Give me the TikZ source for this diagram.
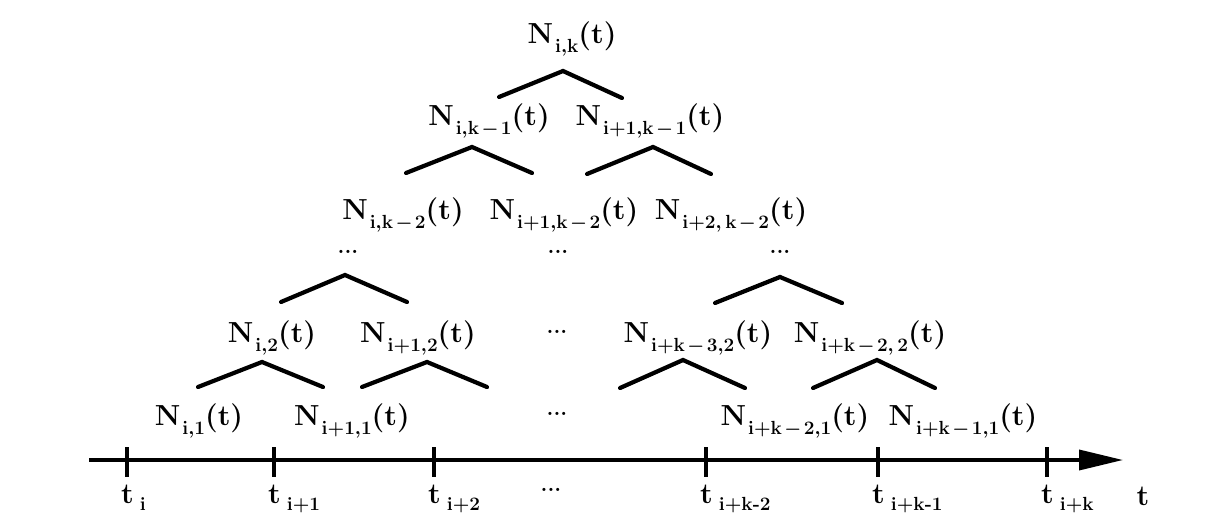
\documentclass[tikz,border=0pt]{standalone}
\usepackage{fix-cm}
\usetikzlibrary{arrows.meta}
\newcommand{\Nl}[1]{\textbf{N}\kern2pt\raisebox{-9pt}{\fontsize{19}{21}\selectfont\boldmath$\mathbf{#1}$}\textbf{(t)}}
\newcommand{\Tl}[1]{\textbf{t}\kern6pt\raisebox{-7pt}{\fontsize{19}{21}\selectfont\bfseries #1}}
\newcommand{\mn}{\mkern2mu{-}\mkern2mu}
\begin{document}
\begin{tikzpicture}[x=1pt,y=-1pt,
  lbl/.style={font=\fontsize{29}{34}\selectfont\boldmath, inner sep=0pt, anchor=base},
  tlbl/.style={font=\fontsize{29}{34}\selectfont\boldmath, inner sep=0pt, anchor=base west},
  dotsnode/.style={font=\fontsize{22}{26}\selectfont\bfseries, inner sep=0pt},
  caret/.style={line width=4.2pt, line cap=round, line join=miter},
  axis/.style={line width=3.6pt, -{Triangle[length=44pt,width=20pt]}},
  tick/.style={line width=3.4pt}]
\useasboundingbox (0,0) rectangle (1220,530);
% row 1
\node[lbl] (n1) at (572,43) {\Nl{i{,}k}};
\draw[caret] (499,97) -- (563,71) -- (622,98);
% row 2
\node[lbl] (n2a) at (489,125) {\Nl{i{,}k\mn1}};
\node[lbl] (n2b) at (650,125) {\Nl{i{+}1{,}k\mn1}};
\draw[caret] (406,173) -- (472,147) -- (532,173);
\draw[caret] (587,174) -- (653,147) -- (711,174);
% row 3
\node[lbl] (n3a) at (403,219) {\Nl{i{,}k\mn2}};
\node[lbl] (n3b) at (564,219) {\Nl{i{+}1{,}k\mn2}};
\node[lbl] (n3c) at (731,219) {\Nl{i{+}2{,}\mkern3mu k\mn2}};
\node[dotsnode] (d3a) at (348,252) {...};
\node[dotsnode] (d3b) at (558,252) {...};
\node[dotsnode] (d3c) at (780,252) {...};
\draw[caret] (281,302) -- (345,275) -- (407,302);
\draw[caret] (715,303) -- (780,277) -- (842,303);
% row 5
\node[lbl] (n5a) at (272,342) {\Nl{i{,}2}};
\node[lbl] (n5b) at (418,342) {\Nl{i{+}1{,}2}};
\node[dotsnode] (d5) at (557,332) {...};
\node[lbl] (n5c) at (698,342) {\Nl{i{+}k\mn3{,}2}};
\node[lbl] (n5d) at (870,342) {\Nl{i{+}k\mn2{,}\mkern3mu 2}};
\draw[caret] (198,387) -- (262,362) -- (323,387);
\draw[caret] (362,387) -- (427,362) -- (487,387);
\draw[caret] (620,388) -- (683,360) -- (745,388);
\draw[caret] (813,388) -- (877,360) -- (935,388);
% row 7
\node[lbl] (n7a) at (199,425) {\Nl{i{,}1}};
\node[lbl] (n7b) at (352,425) {\Nl{i{+}1{,}1}};
\node[dotsnode] (d7) at (557,414) {...};
\node[lbl] (n7c) at (795,425) {\Nl{i{+}k\mn2{,}1}};
\node[lbl] (n7d) at (963,425) {\Nl{i{+}k\mn1{,}1}};
% axis
\coordinate (a0) at (89,460);
\coordinate (a1) at (1123,460);
\draw[axis] (a0) -- (a1);
\foreach \x in {127,274,434,706,878,1047} {
  \draw[tick] (\x,447) -- (\x,477);
}
\node[tlbl] (t0) at (121,503) {\Tl{i}};
\node[tlbl] (t1) at (268,503) {\Tl{i+1}};
\node[tlbl] (t2) at (428,503) {\Tl{i+2}};
\node[dotsnode] (dt) at (551,490) {...};
\node[tlbl] (t3) at (700,503) {\Tl{i+k-2}};
\node[tlbl] (t4) at (872,503) {\Tl{i+k-1}};
\node[tlbl] (t5) at (1041,503) {\Tl{i+k}};
\node[lbl] (tt) at (1143,505) {\textbf{t}};
\end{tikzpicture}
\end{document}
